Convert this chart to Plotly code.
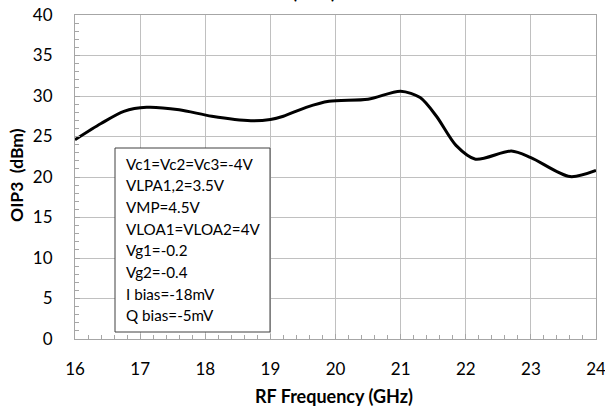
import plotly.graph_objects as go

freq = [16.0, 16.4, 16.75, 17.1, 17.6, 18.1, 18.7, 19.0, 19.2, 19.55, 19.9, 20.5,
        21.0, 21.3, 21.55, 21.85, 22.15, 22.7, 23.0, 23.6, 24.0]
oip3 = [24.6, 26.6, 28.1, 28.6, 28.3, 27.5, 26.95, 27.1, 27.5, 28.6, 29.35, 29.6,
        30.6, 29.8, 27.5, 23.9, 22.2, 23.2, 22.4, 20.05, 20.8]
x_ticks = [16, 17, 18, 19, 20, 21, 22, 23, 24]
y_ticks = [0, 5, 10, 15, 20, 25, 30, 35, 40]
note_lines = ["Vc1=Vc2=Vc3=-4V", "VLPA1,2=3.5V", "VMP=4.5V", "VLOA1=VLOA2=4V",
              "Vg1=-0.2", "Vg2=-0.4", "I bias=-18mV", "Q bias=-5mV"]

W, H = 605, 409
ML, MR, MT, MB = 75, 9, 15, 70
PW, PH = W - ML - MR, H - MT - MB

def px_x(p):
    return (p - ML) / PW

def px_y(p):
    return (H - MB - p) / PH

FONT = "Lato"
grid = "#c0c0c0"

fig = go.Figure()
fig.add_trace(go.Scatter(x=freq, y=oip3, mode="lines",
                         line=dict(color="black", width=3, shape="spline", smoothing=0.8),
                         showlegend=False, hoverinfo="skip"))

axis_common = dict(showline=True, linecolor="#a6a6a6", linewidth=1, mirror=True,
                   showgrid=True, gridcolor=grid, gridwidth=1, zeroline=False,
                   automargin=False, ticklabeloverflow="allow",
                   ticks="inside", ticklen=5, tickcolor="#a6a6a6",
                   tickfont=dict(family=FONT, size=17, color="black"))

fig.update_xaxes(range=[16, 24], tickvals=x_ticks, ticklabelstandoff=15,
                 minor=dict(dtick=0.2, ticks="inside", ticklen=4, tickcolor="#a6a6a6", showgrid=False),
                 **axis_common)
fig.update_yaxes(range=[0, 40], tickvals=y_ticks, ticklabelstandoff=18,
                 minor=dict(dtick=1, ticks="inside", ticklen=4, tickcolor="#a6a6a6", showgrid=False),
                 **axis_common)

annotations = []
# axis titles
annotations.append(dict(text="<b>RF Frequency (GHz)</b>", xref="paper", yref="paper",
                        x=px_x(334), y=px_y(396), xanchor="center", yanchor="middle",
                        showarrow=False, font=dict(family=FONT, size=18, color="black")))
annotations.append(dict(text="<b>OIP3  (dBm)</b>", xref="paper", yref="paper",
                        x=px_x(16), y=px_y(175), xanchor="center", yanchor="middle",
                        showarrow=False, textangle=-90,
                        font=dict(family=FONT, size=17.5, color="black")))
# clipped chart title (only the lowest bits show at the top edge, as in the source)
annotations.append(dict(text="<b>OIP3 (dBm)</b>", xref="paper", yref="paper",
                        x=px_x(292), y=px_y(5), xanchor="center", yanchor="bottom",
                        showarrow=False, font=dict(family=FONT, size=17, color="black")))
# note box lines
for i, line in enumerate(note_lines):
    annotations.append(dict(text=line, xref="paper", yref="paper",
                            x=px_x(124), y=px_y(163.5 + 21.7 * i), xanchor="left",
                            yanchor="middle", showarrow=False,
                            font=dict(family=FONT, size=15.2, color="black")))

fig.add_shape(type="rect", xref="paper", yref="paper",
              x0=px_x(115), x1=px_x(270), y0=px_y(332), y1=px_y(148),
              line=dict(color="#404040", width=1), fillcolor="white", layer="above")

fig.update_layout(width=W, height=H, margin=dict(l=ML, r=MR, t=MT, b=MB),
                  paper_bgcolor="white", plot_bgcolor="white",
                  annotations=annotations)
fig.write_html("out.html", config={"displayModeBar": False},
               post_script="document.body.style.margin='0';document.body.style.overflow='hidden';")
